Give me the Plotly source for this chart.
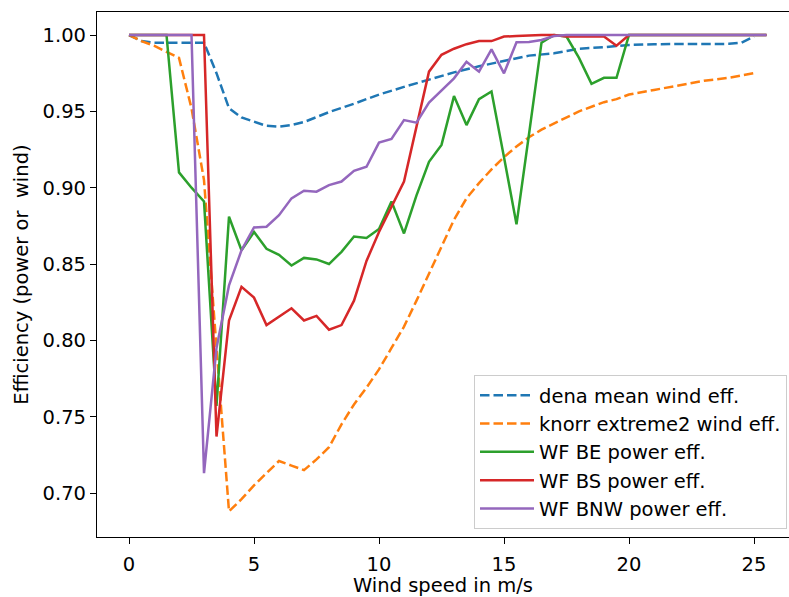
import plotly.graph_objects as go

# ---------------- data ----------------
wind_dena = [0, 0.5, 1, 2, 3, 3.5, 4, 4.5, 5, 5.5, 6, 6.5, 7, 8, 9, 10, 11, 12, 13,
             14, 15, 16, 17, 18, 19, 20, 21, 22, 23, 24, 24.5, 25]
dena_eff = [1.0, 0.996, 0.995, 0.995, 0.995, 0.975, 0.952, 0.946, 0.943, 0.9405, 0.940,
            0.941, 0.943, 0.9495, 0.955, 0.961, 0.966, 0.971, 0.9755, 0.9795, 0.983,
            0.9865, 0.988, 0.991, 0.992, 0.9935, 0.994, 0.994, 0.994, 0.9942, 0.995, 0.999]

wind_knorr = [0, 0.5, 1, 1.5, 2, 2.5, 3, 3.5, 4, 4.5, 5, 5.5, 6, 6.5, 7, 7.5, 8, 8.5,
              9, 9.5, 10, 10.5, 11, 11.5, 12, 12.5, 13, 13.5, 14, 14.5, 15, 15.5, 16,
              16.5, 17, 17.5, 18, 18.5, 19, 19.5, 20, 21, 22, 23, 24, 25]
knorr_eff = [1.0, 0.996, 0.993, 0.989, 0.985, 0.952, 0.905, 0.795, 0.688, 0.696, 0.705,
             0.713, 0.721, 0.718, 0.715, 0.722, 0.730, 0.745, 0.758, 0.769, 0.781, 0.795,
             0.809, 0.826, 0.844, 0.862, 0.879, 0.893, 0.903, 0.912, 0.920, 0.927, 0.933,
             0.938, 0.942, 0.946, 0.950, 0.953, 0.956, 0.958, 0.961, 0.964, 0.967, 0.970,
             0.972, 0.975]

wind_wf = [0, 0.5, 1, 1.5, 2, 2.5, 3, 3.5, 4, 4.5, 5, 5.5, 6, 6.5, 7, 7.5, 8, 8.5, 9,
           9.5, 10, 10.5, 11, 11.5, 12, 12.5, 13, 13.5, 14, 14.5, 15, 15.5, 16, 16.5,
           17, 17.5, 18, 18.5, 19, 19.5, 20, 20.5, 21, 21.5, 22, 22.5, 23, 23.5, 24,
           24.5, 25, 25.5]

be_eff = [1.0, 1.0, 1.0, 1.0, 0.910, 0.900, 0.891, 0.757, 0.881, 0.859, 0.871, 0.860,
          0.856, 0.849, 0.854, 0.853, 0.850, 0.858, 0.868, 0.867, 0.873, 0.891, 0.870,
          0.895, 0.917, 0.928, 0.960, 0.941, 0.958, 0.963, 0.920, 0.876, 0.935, 0.995,
          1.0, 0.999, 0.985, 0.968, 0.972, 0.972, 1.0, 1.0, 1.0, 1.0, 1.0, 1.0, 1.0,
          1.0, 1.0, 1.0, 1.0, 1.0]

bs_eff = [1.0, 1.0, 1.0, 1.0, 1.0, 1.0, 1.0, 0.737, 0.813, 0.835, 0.828, 0.810, 0.8155,
          0.821, 0.813, 0.816, 0.807, 0.810, 0.826, 0.852, 0.871, 0.888, 0.904, 0.940,
          0.976, 0.987, 0.991, 0.994, 0.996, 0.996, 0.999, 0.9993, 0.9997, 1.0, 1.0,
          0.999, 0.999, 0.999, 0.999, 0.993, 1.0, 1.0, 1.0, 1.0, 1.0, 1.0, 1.0, 1.0,
          1.0, 1.0, 1.0, 1.0]

bnw_eff = [1.0, 1.0, 1.0, 1.0, 1.0, 1.0, 0.713, 0.795, 0.836, 0.859, 0.874, 0.8744,
           0.882, 0.893, 0.898, 0.8974, 0.9017, 0.904, 0.911, 0.9137, 0.9295, 0.9319,
           0.9443, 0.9426, 0.9557, 0.9635, 0.9716, 0.9825, 0.976, 0.9906, 0.9749, 0.9952,
           0.9954, 0.9967, 0.9993, 1.0, 1.0, 1.0, 1.0, 1.0, 1.0, 1.0, 1.0, 1.0, 1.0,
           1.0, 1.0, 1.0, 1.0, 1.0, 1.0, 1.0]

x_ticks = [0, 5, 10, 15, 20, 25]
y_ticks = [0.70, 0.75, 0.80, 0.85, 0.90, 0.95, 1.00]

# ---------------- figure ----------------
FONT = "DejaVu Sans"
FS = 19.5
LW = 2.5
DASH = "9.5px,4px"

series = [
    (wind_dena, dena_eff, "dena mean wind eff.", "#1f77b4", DASH),
    (wind_knorr, knorr_eff, "knorr extreme2 wind eff.", "#ff7f0e", DASH),
    (wind_wf, be_eff, "WF BE power eff.", "#2ca02c", "solid"),
    (wind_wf, bs_eff, "WF BS power eff.", "#d62728", "solid"),
    (wind_wf, bnw_eff, "WF BNW power eff.", "#9467bd", "solid"),
]

fig = go.Figure()
for i, (xs, ys, name, color, dash) in enumerate(series):
    fig.add_trace(go.Scatter(
        x=xs, y=ys, mode="lines", name=name, legendgroup=f"g{i}",
        line=dict(color=color, width=LW, dash=dash),
    ))

fig.update_layout(
    width=789, height=597,
    margin=dict(l=97, r=0, t=12, b=60),
    paper_bgcolor="white", plot_bgcolor="white",
    font=dict(family=FONT, size=FS, color="#000000"),
    showlegend=True,
    legend=dict(
        x=0.5448, y=0.3086, xanchor="left", yanchor="top",
        bgcolor="rgba(255,255,255,0.8)", bordercolor="#cccccc", borderwidth=1,
        font=dict(family=FONT, size=FS, color="#000000"),
        tracegroupgap=0, itemwidth=54,
    ),
    xaxis=dict(
        range=[-1.28, 26.40], tickvals=x_ticks, ticks="outside", ticklen=6,
        tickwidth=1.2, tickcolor="black", showline=True, linecolor="black",
        linewidth=1.2, mirror=True, showgrid=False, zeroline=False,
        ticklabelstandoff=3,
        title=dict(text="Wind speed in m/s", standoff=6,
                   font=dict(family=FONT, size=FS, color="#000000")),
        tickfont=dict(family=FONT, size=FS, color="#000000"),
    ),
    yaxis=dict(
        range=[0.6712, 1.01507], tickvals=y_ticks, tickformat=".2f", ticks="outside",
        ticklen=6, tickwidth=1.2, tickcolor="black", showline=True, linecolor="black",
        linewidth=1.2, mirror=False, showgrid=False, zeroline=False,
        title=dict(text="Efficiency (power or \u00a0wind)", standoff=8,
                   font=dict(family=FONT, size=FS, color="#000000")),
        tickfont=dict(family=FONT, size=FS, color="#000000"),
    ),
)

fig.write_html("out.html")
